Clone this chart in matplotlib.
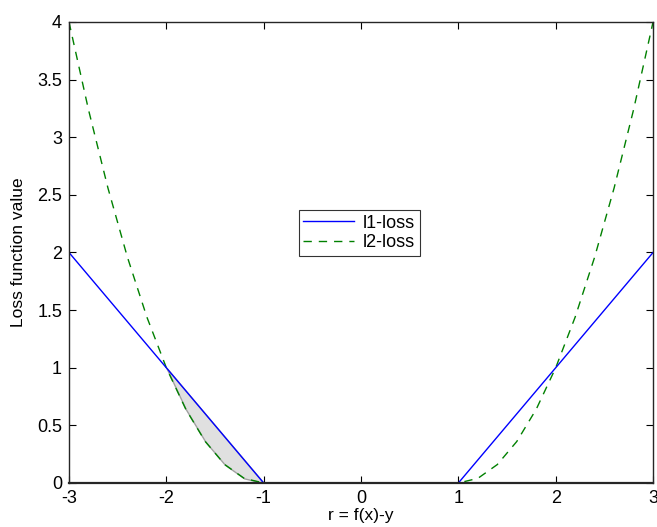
import matplotlib
matplotlib.use("Agg")
import matplotlib.pyplot as plt

plt.rcParams['font.family'] = ['Liberation Sans', 'DejaVu Sans']

# l1-loss polyline
l1_x = [-3, -1, 1, 3]
l1_y = [2, 0, 0, 2]

# l2-loss values
l2_x = [-3.0, -2.8, -2.6, -2.4, -2.2, -2.0, -1.8, -1.6, -1.4, -1.2, -1.0,
        -0.5, 0.0, 0.5,
        1.0, 1.2, 1.4, 1.6, 1.8, 2.0, 2.2, 2.4, 2.6, 2.8, 3.0]
l2_y = [4.0, 3.24, 2.56, 1.96, 1.44, 1.0, 0.64, 0.36, 0.16, 0.04, 0.0,
        0.0, 0.0, 0.0,
        0.0, 0.04, 0.16, 0.36, 0.64, 1.0, 1.44, 1.96, 2.56, 3.24, 4.0]

# shaded region between l1 and l2 on [-2, -1]
shade_x = [-2.0, -1.8, -1.6, -1.4, -1.2, -1.0]
shade_top = [1.0, 0.8, 0.6, 0.4, 0.2, 0.0]
shade_bot = [1.0, 0.64, 0.36, 0.16, 0.04, 0.0]

xticks = [-3, -2, -1, 0, 1, 2, 3]
yticks = [0, 0.5, 1, 1.5, 2, 2.5, 3, 3.5, 4]
yticklabels = ['0', '0.5', '1', '1.5', '2', '2.5', '3', '3.5', '4']

fig = plt.figure(figsize=(6.57, 5.27), dpi=100)
ax = fig.add_axes([0.105, 0.0835, 0.889, 0.8748])

ax.fill_between(shade_x, shade_bot, shade_top, facecolor='#e0e0e0',
                edgecolor='#a0a0a0', linewidth=1.0, zorder=1)
ax.plot(l1_x, l1_y, color='#0000ff', linewidth=1.0, label='l1-loss', zorder=3)
ax.plot(l2_x, l2_y, color='#008000', linewidth=1.0, linestyle=(0, (6, 5)),
        label='l2-loss', zorder=2)

ax.set_xlim(-3, 3)
ax.set_ylim(0, 4)
ax.set_xticks(xticks)
ax.set_xticklabels([str(t) for t in xticks])
ax.set_yticks(yticks)
ax.set_yticklabels(yticklabels)
ax.tick_params(direction='in', length=5, width=0.8, labelsize=13,
               top=True, right=True, pad=5)
for s in ax.spines.values():
    s.set_linewidth(1.0)
    s.set_color('#262626')
    s.set_zorder(5)
ax.spines['bottom'].set_linewidth(1.6)

ax.set_xlabel('r = f(x)-y', fontsize=12.5, labelpad=1)
ax.set_ylabel('Loss function value', fontsize=12.5, labelpad=8)

leg = ax.legend(loc='center', bbox_to_anchor=(0.497, 0.542), fontsize=13,
                frameon=True, fancybox=False, edgecolor='black',
                handlelength=2.8, borderpad=0.25, labelspacing=0.15,
                handletextpad=0.5, borderaxespad=0)
leg.get_frame().set_linewidth(0.8)
leg.set_zorder(6)

fig.savefig('out.png', dpi=100)
